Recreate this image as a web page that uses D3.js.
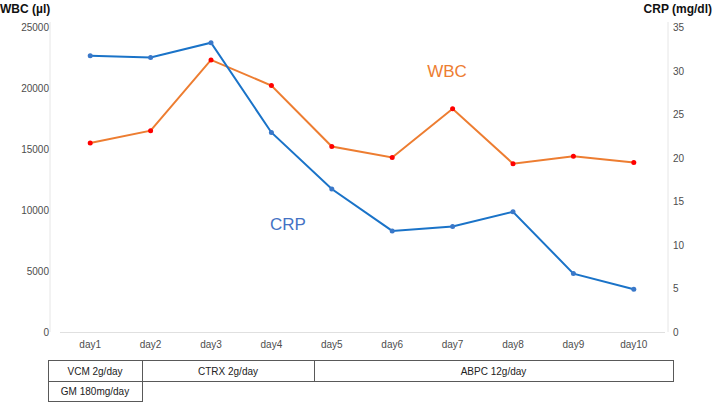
<!DOCTYPE html>
<html>
<head>
<meta charset="utf-8">
<script src="https://cdn.jsdelivr.net/npm/d3@7"></script>
<style>
  body { margin: 0; background: #fff; }
  text { font-family: Arial, "Liberation Sans", sans-serif; }
</style>
</head>
<body>
<div id="chart"></div>
<script>
var svgWidth = 714;
var svgHeight = 403;

// Data
var days = ["day1", "day2", "day3", "day4", "day5", "day6", "day7", "day8", "day9", "day10"];
var wbcValues = [15500, 16500, 22300, 20200, 15200, 14300, 18300, 13800, 14400, 13900];
var crpValues = [31.7, 31.5, 33.2, 22.9, 16.4, 11.6, 12.1, 13.8, 6.7, 4.9];
var wbcTicks = [0, 5000, 10000, 15000, 20000, 25000];
var crpTicks = [0, 5, 10, 15, 20, 25, 30, 35];

// Treatment table rows
var drugRow1 = ["VCM 2g/day", "CTRX 2g/day", "ABPC 12g/day"];
var drugRow2 = ["GM 180mg/day"];

var svg = d3.select("#chart")
  .append("svg")
  .attr("width", svgWidth)
  .attr("height", svgHeight);

var xScale = d3.scaleBand()
  .domain(days)
  .range([60, 664]);

var yLeft = d3.scaleLinear()
  .domain([0, 25000])
  .range([332, 27]);

var yRight = d3.scaleLinear()
  .domain([0, 35])
  .range([332, 27]);

var cx = d => xScale(d) + xScale.bandwidth() / 2;

// axis lines (faint)
svg.append("line")
  .attr("x1", 50).attr("x2", 50)
  .attr("y1", 22).attr("y2", 332)
  .attr("stroke", "#e6e6e6");
svg.append("line")
  .attr("x1", 668).attr("x2", 668)
  .attr("y1", 22).attr("y2", 332)
  .attr("stroke", "#e6e6e6");
svg.append("line")
  .attr("x1", 60).attr("x2", 665)
  .attr("y1", 332.5).attr("y2", 332.5)
  .attr("stroke", "#e0e0e0");

// Left axis ticks
svg.append("g").selectAll("text")
  .data(wbcTicks)
  .enter()
  .append("text")
  .attr("x", 49)
  .attr("y", d => yLeft(d) + 4)
  .attr("text-anchor", "end")
  .attr("font-size", 10)
  .attr("fill", "#4d4d4d")
  .text(d => d);

// Right axis ticks
svg.append("g").selectAll("text")
  .data(crpTicks)
  .enter()
  .append("text")
  .attr("x", 673)
  .attr("y", d => yRight(d) + 4)
  .attr("font-size", 10)
  .attr("fill", "#4d4d4d")
  .text(d => d);

// Axis titles
svg.append("text")
  .attr("x", 0).attr("y", 13)
  .attr("font-size", 12).attr("font-weight", "bold")
  .attr("fill", "#111")
  .text("WBC (µl)");
svg.append("text")
  .attr("x", 712).attr("y", 13)
  .attr("text-anchor", "end")
  .attr("font-size", 12).attr("font-weight", "bold")
  .attr("fill", "#111")
  .text("CRP (mg/dl)");

// Day labels
svg.append("g").selectAll("text")
  .data(days)
  .enter()
  .append("text")
  .attr("x", d => cx(d))
  .attr("y", 348)
  .attr("text-anchor", "middle")
  .attr("font-size", 10)
  .attr("fill", "#4d4d4d")
  .text(d => d);

// Lines
var wbcLine = d3.line()
  .x((d, i) => cx(days[i]))
  .y(d => yLeft(d));
var crpLine = d3.line()
  .x((d, i) => cx(days[i]))
  .y(d => yRight(d));

svg.append("path")
  .attr("d", wbcLine(wbcValues))
  .attr("fill", "none")
  .attr("stroke", "#ed7d31")
  .attr("stroke-width", 2);

svg.append("path")
  .attr("d", crpLine(crpValues))
  .attr("fill", "none")
  .attr("stroke", "#1a73c8")
  .attr("stroke-width", 2);

svg.append("g").selectAll("circle")
  .data(wbcValues)
  .enter()
  .append("circle")
  .attr("cx", (d, i) => cx(days[i]))
  .attr("cy", d => yLeft(d))
  .attr("r", 2.5)
  .attr("fill", "#ff0000");

svg.append("g").selectAll("circle")
  .data(crpValues)
  .enter()
  .append("circle")
  .attr("cx", (d, i) => cx(days[i]))
  .attr("cy", d => yRight(d))
  .attr("r", 2.5)
  .attr("fill", "#3a78c9");

// Series labels
svg.append("text")
  .attr("x", 447).attr("y", 77)
  .attr("text-anchor", "middle")
  .attr("font-size", 17)
  .attr("fill", "#ed7d31")
  .text("WBC");
svg.append("text")
  .attr("x", 288).attr("y", 230)
  .attr("text-anchor", "middle")
  .attr("font-size", 17)
  .attr("fill", "#4472c4")
  .text("CRP");

// Treatment table
var cells1 = [[48, 142], [142, 314], [314, 673]];
var table = svg.append("g");
table.selectAll("rect.r1")
  .data(drugRow1)
  .enter()
  .append("rect")
  .attr("x", (d, i) => cells1[i][0] + 0.5)
  .attr("y", 360.5)
  .attr("width", (d, i) => cells1[i][1] - cells1[i][0])
  .attr("height", 21)
  .attr("fill", "none")
  .attr("stroke", "#595959");
table.selectAll("text.r1")
  .data(drugRow1)
  .enter()
  .append("text")
  .attr("x", (d, i) => (cells1[i][0] + cells1[i][1]) / 2)
  .attr("y", 375)
  .attr("text-anchor", "middle")
  .attr("font-size", 10)
  .attr("fill", "#222")
  .text(d => d);
table.selectAll("rect.r2")
  .data(drugRow2)
  .enter()
  .append("rect")
  .attr("x", 48.5)
  .attr("y", 381.5)
  .attr("width", 94)
  .attr("height", 20)
  .attr("fill", "none")
  .attr("stroke", "#595959");
table.selectAll("text.r2")
  .data(drugRow2)
  .enter()
  .append("text")
  .attr("x", 95)
  .attr("y", 395)
  .attr("text-anchor", "middle")
  .attr("font-size", 10)
  .attr("fill", "#222")
  .text(d => d);
</script>
</body>
</html>
